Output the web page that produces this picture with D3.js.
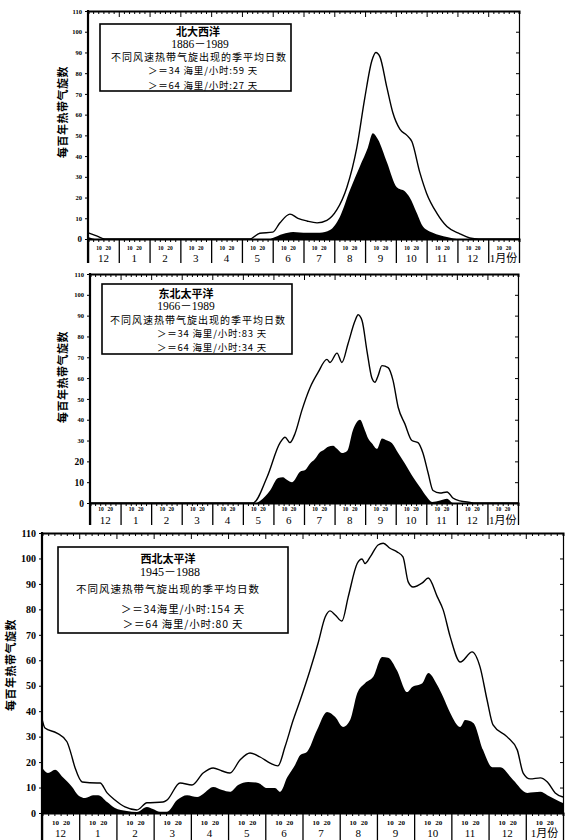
<!DOCTYPE html>
<html><head><meta charset="utf-8">
<script src="https://cdn.jsdelivr.net/npm/d3@7"></script>
<style>
html,body{margin:0;padding:0;background:#fff;}
svg{display:block;}
</style></head><body>
<svg id="c" width="565" height="840"></svg>
<script>
// ---------- DATA ----------
const monthLabels = ["12","1","2","3","4","5","6","7","8","9","10","11","12","1月份"];
const yTicks = [0,10,20,30,40,50,60,70,80,90,100,110];
const dayLabels = ["10","20"];
const basinNames = ["北大西洋","东北太平洋","西北太平洋"];
const yearRanges = ["1886－1989","1966－1989","1945－1988"];
const subtitle = "不同风速热带气旋出现的季平均日数";
const line34 = ["＞＝34 海里/小时:59 天", "＞＝34 海里/小时:83 天", "＞＝34海里/小时:154 天"];
const line64 = ["＞＝64 海里/小时:27 天", "＞＝64 海里/小时:34 天", "＞＝64 海里/小时:80 天"];
const yTitle = "每百年热带气旋数";

// [month position (0 = 1 Dec), value]
const natlAll = [[0,3],[0.3,1.4],[0.55,0],[5.26,0],[5.58,2.8],[6.0,3.3],[6.23,7.7],[6.56,12],[6.82,10],[7.11,8.7],[7.44,7.8],[7.76,9],[8.08,14],[8.41,25],[8.73,44],[8.99,68],[9.22,86],[9.35,90],[9.48,88],[9.71,73],[9.9,61],[10.13,53],[10.36,50],[10.52,47],[10.78,32],[11.0,22],[11.33,12.5],[11.66,6],[12.08,2.5],[12.4,0.5],[12.7,0],[14,0]];
const natlHur = [[0,1],[0.3,0],[5.9,0],[6.0,0.5],[6.33,2.4],[6.66,3.4],[7.11,3],[7.53,3],[7.86,4.3],[8.18,10.6],[8.51,23.6],[8.83,35],[9.09,44],[9.25,51],[9.42,48],[9.71,37],[10.03,25],[10.29,23],[10.45,20],[10.68,12.5],[10.88,6],[11.2,3],[11.66,1],[12.08,0],[14,0]];
const nepAll = [[0,0],[5.33,0],[5.79,12.4],[6.22,29],[6.38,31.6],[6.54,29],[6.71,33.5],[6.93,44.5],[7.2,55.5],[7.46,62.7],[7.75,69],[7.85,67.5],[8.08,72],[8.24,67.5],[8.44,76.5],[8.67,87.5],[8.77,90.4],[8.9,87.5],[9.06,73],[9.22,60],[9.32,58],[9.42,61],[9.55,66],[9.75,65],[9.91,59],[10.08,46],[10.3,38],[10.53,30],[10.73,29],[10.89,24],[11.06,14.4],[11.22,6],[11.45,4.8],[11.68,5.3],[11.87,2.4],[12.1,1],[12.43,0.3],[12.6,0],[14,0]];
const nepHur = [[0,0],[5.4,0],[5.56,1],[5.89,6],[6.15,12],[6.31,12.4],[6.45,11],[6.61,10],[6.87,15],[7.05,16],[7.2,19],[7.35,21],[7.52,24.4],[7.65,25.5],[7.79,27],[7.95,27.5],[8.08,26],[8.24,24],[8.41,25],[8.6,35],[8.83,40],[8.99,35],[9.1,31],[9.22,28.7],[9.39,26],[9.55,31],[9.72,30],[9.88,28.7],[10.08,24],[10.3,19],[10.57,12.4],[10.79,7.7],[11.02,2.9],[11.19,0.5],[11.45,1.2],[11.68,2],[11.87,0],[14,0]];
const nwpAll = [[0,37],[0.08,33.4],[0.4,31.4],[0.67,28],[0.75,24.8],[0.89,17.7],[1.08,12.2],[1.48,11.8],[1.56,11.8],[1.75,7.9],[1.96,5.1],[2.23,2.4],[2.55,1.2],[2.82,4],[3.25,4.3],[3.36,5.1],[3.71,11.8],[4.03,11],[4.33,15.7],[4.6,17.7],[4.84,16.5],[5.05,15.7],[5.32,20.8],[5.59,23.6],[5.86,22],[6.13,19.6],[6.34,18.5],[6.53,26],[6.75,36.5],[6.94,44.4],[7.2,56],[7.42,66.8],[7.61,77],[7.74,79.4],[7.88,77.8],[8.06,75.4],[8.23,85],[8.47,98],[8.6,99.8],[8.68,98],[8.82,100.6],[9.03,105.3],[9.17,106],[9.35,104],[9.54,102.6],[9.7,100.6],[9.84,90.8],[9.97,88.8],[10.22,90.4],[10.38,92.3],[10.62,85],[10.78,79.8],[10.97,69.2],[11.24,59.3],[11.56,63.3],[11.77,57.4],[11.96,44.4],[12.12,34.6],[12.5,29.9],[12.77,24.8],[12.93,15.7],[13.12,13.4],[13.39,13.8],[13.58,12.2],[13.79,7.9],[14,6.3]];
const nwpHur = [[0,18],[0.16,15.7],[0.35,17],[0.56,14],[0.81,10.2],[0.97,7],[1.16,5.9],[1.37,7],[1.51,7],[1.75,4.3],[1.96,2],[2.28,0.8],[2.55,0.4],[2.82,2.4],[2.98,1.6],[3.17,0.5],[3.36,0.5],[3.63,5.1],[3.9,7],[4.17,6.3],[4.33,7.5],[4.6,10.2],[4.84,9],[5.05,8.3],[5.27,11],[5.54,12.2],[5.81,11.8],[6.05,9.8],[6.26,9.8],[6.4,8.3],[6.59,14],[6.8,18.9],[6.94,22.8],[7.12,24],[7.39,32.6],[7.66,39.7],[7.88,37.7],[8.09,33.8],[8.28,36.5],[8.47,47],[8.68,51],[8.9,53.5],[9.14,61.3],[9.3,61],[9.54,56],[9.81,47.5],[9.95,49.5],[10.22,51],[10.38,55],[10.62,50.3],[10.78,45.6],[10.97,39.3],[11.24,33.8],[11.37,36.5],[11.59,35.4],[11.85,24.8],[12.1,18],[12.31,18],[12.66,13],[13.04,7.9],[13.39,8.3],[13.58,7],[13.84,5],[14,3.9]];

const allSeries = [natlAll, nepAll, nwpAll];
const hurSeries = [natlHur, nepHur, nwpHur];

// ---------- LAYOUT ----------
const layouts = [
  {left:88, right:519, top:11, bottom:239, sepBottom:263, dayY:248, monY:258, dayFs:5.5, monFs:11,
   tickFs:v=> v===0?9:6.5, ttlX:62, ttlY:112, ttlFs:11,
   box:[100,24,291,91], rows:[30.5,43.5,56.5,70,84.5], rowX:[198,200,199,203,203], fsTitle:11, fsRow:[11.5,10,9.5,9.5], ls:[0,0,1,0.8,0.8]},
  {left:90, right:518, top:274, bottom:503, sepBottom:525, dayY:509, monY:520, dayFs:5.5, monFs:11,
   tickFs:v=> v<=20?9.5:6.5, ttlX:62, ttlY:377, ttlFs:11,
   box:[102,284,292,354], rows:[292.5,306,319,332.5,347], rowX:[186,186,198,212,212], fsTitle:11, fsRow:[11.5,10,9.5,9.5], ls:[0,0,1,0.8,0.8]},
  {left:42, right:563, top:533, bottom:813, sepBottom:840, dayY:823, monY:832.5, dayFs:7, monFs:11,
   tickFs:v=>10, ttlX:10, ttlY:665, ttlFs:11,
   box:[58,547,288,633], rows:[558,572,588,608,623], rowX:[168,170,168,183,183], fsTitle:11, fsRow:[12,10.5,10.5,10.5], ls:[0,0,1,0.8,0.8]}
];

const svg = d3.select("#c");
const serif = "'Liberation Serif','Noto Sans CJK SC',serif";
const cjk = "'Noto Sans CJK SC','Liberation Serif',sans-serif";

layouts.forEach((L, i) => {
  const g = svg.append("g");
  const x = d3.scaleLinear().domain([0, 14]).range([L.left, L.right]);
  const y = d3.scaleLinear().domain([0, 110]).range([L.bottom, L.top]);

  // hurricane area
  const area = d3.area().x(d => x(d[0])).y0(y(0)).y1(d => y(d[1])).curve(d3.curveMonotoneX);
  g.append("path").datum(hurSeries[i]).attr("d", area).attr("fill", "#000");
  // all-storm line
  const line = d3.line().x(d => x(d[0])).y(d => y(d[1])).curve(d3.curveMonotoneX);
  g.append("path").datum(allSeries[i]).attr("d", line).attr("fill", "none")
    .attr("stroke", "#000").attr("stroke-width", 1.4).attr("stroke-linejoin", "round");

  // minor tick positions (every 5 days)
  const minor = d3.range(0, 14 * 6 + 1).map(k => k / 6);
  const isMonth = d => Math.abs(d - Math.round(d)) < 1e-6;

  // top axis
  const top = g.append("g").attr("transform", `translate(0,${L.top})`)
    .call(d3.axisBottom(x).tickValues(minor).tickSize(3).tickFormat(""));
  top.select(".domain").attr("stroke-width", 2);
  top.selectAll(".tick line").attr("stroke-width", 1)
    .attr("y2", d => isMonth(d) ? 6 : 3);

  // bottom axis (baseline)
  const bot = g.append("g").attr("transform", `translate(0,${L.bottom})`)
    .call(d3.axisBottom(x).tickValues(minor).tickSize(3).tickFormat(""));
  bot.select(".domain").attr("stroke-width", 2);
  bot.selectAll(".tick line")
    .attr("y2", d => isMonth(d) ? L.sepBottom - L.bottom : 3)
    .attr("stroke-width", d => isMonth(d) ? 1.3 : 1);

  // left axis
  const la = g.append("g").attr("transform", `translate(${L.left},0)`)
    .call(d3.axisLeft(y).tickValues(yTicks).tickSize(3).tickPadding(3));
  la.select(".domain").remove();
  g.append("line").attr("x1", L.left).attr("x2", L.left).attr("y1", L.top - 1).attr("y2", L.sepBottom)
    .attr("stroke", "#000").attr("stroke-width", 2.2);
  la.selectAll(".tick text").attr("font-family", serif).attr("font-weight", "bold")
    .attr("font-size", d => L.tickFs(d)).attr("fill", "#000");

  // right axis
  const ra = g.append("g").attr("transform", `translate(${L.right},0)`)
    .call(d3.axisLeft(y).tickValues(yTicks).tickSize(3).tickFormat(""));
  ra.select(".domain").attr("stroke-width", 1.2);

  // day & month labels
  d3.range(14).forEach(m => {
    [0.36, 0.66].forEach((off, k) => {
      g.append("text").attr("x", x(m + off)).attr("y", L.dayY)
        .attr("text-anchor", "middle").attr("dominant-baseline", "central")
        .attr("font-family", serif).attr("font-weight", "bold").attr("font-size", L.dayFs)
        .attr("fill", "#000")
        .text(dayLabels[k]);
    });
    g.append("text").attr("x", x(m + 0.5)).attr("y", L.monY)
      .attr("text-anchor", "middle").attr("dominant-baseline", "central")
      .attr("font-family", serif).attr("font-size", L.monFs)
      .text(monthLabels[m]);
  });

  // y title
  g.append("text").attr("transform", `translate(${L.ttlX},${L.ttlY}) rotate(-90)`)
    .attr("text-anchor", "middle").attr("dominant-baseline", "central")
    .attr("font-family", cjk).attr("font-weight", "bold").attr("font-size", L.ttlFs)
    .attr("letter-spacing", 0.5)
    .text(yTitle);

  // legend box
  const [bx0, by0, bx1, by1] = L.box;
  g.append("rect").attr("x", bx0).attr("y", by0).attr("width", bx1 - bx0).attr("height", by1 - by0)
    .attr("fill", "#fff").attr("stroke", "#000").attr("stroke-width", 1.6);
  const rows = [basinNames[i], yearRanges[i], subtitle, line34[i], line64[i]];
  rows.forEach((t, r) => {
    g.append("text").attr("x", L.rowX[r]).attr("y", L.rows[r])
      .attr("text-anchor", "middle").attr("dominant-baseline", "central")
      .attr("font-family", r === 1 ? serif : cjk)
      .attr("font-weight", r === 0 ? "bold" : "normal")
      .attr("font-size", r === 0 ? L.fsTitle : L.fsRow[r - 1])
      .attr("letter-spacing", L.ls[r])
      .text(t);
  });
});
</script>
</body></html>
